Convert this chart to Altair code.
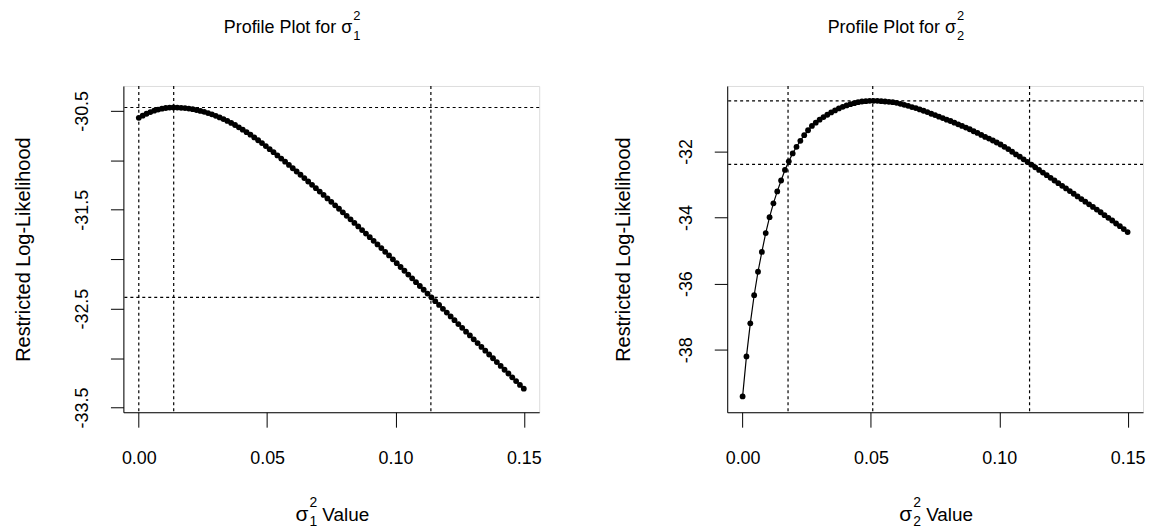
import altair as alt
import pandas as pd

# sigma^2 grid (x values of the profile points)
sigma_grid = [
    0.0, 0.0015, 0.003, 0.0045, 0.006, 0.0075, 0.009, 0.0105, 0.012, 0.0135,
    0.015, 0.0165, 0.018, 0.0195, 0.021, 0.0225, 0.024, 0.0255, 0.027, 0.0285,
    0.03, 0.0315, 0.033, 0.0345, 0.036, 0.0375, 0.039, 0.0405, 0.042, 0.0435,
    0.045, 0.0465, 0.048, 0.0495, 0.051, 0.0525, 0.054, 0.0555, 0.057, 0.0585,
    0.06, 0.0615, 0.063, 0.0645, 0.066, 0.0675, 0.069, 0.0705, 0.072, 0.0735,
    0.075, 0.0765, 0.078, 0.0795, 0.081, 0.0825, 0.084, 0.0855, 0.087, 0.0885,
    0.09, 0.0915, 0.093, 0.0945, 0.096, 0.0975, 0.099, 0.1005, 0.102, 0.1035,
    0.105, 0.1065, 0.108, 0.1095, 0.111, 0.1125, 0.114, 0.1155, 0.117, 0.1185,
    0.12, 0.1215, 0.123, 0.1245, 0.126, 0.1275, 0.129, 0.1305, 0.132, 0.1335,
    0.135, 0.1365, 0.138, 0.1395, 0.141, 0.1425, 0.144, 0.1455, 0.147, 0.1485,
    0.15,
]

loglik_sigma1 = [
    -30.570, -30.548, -30.529, -30.512, -30.498, -30.487, -30.478, -30.471, -30.467, -30.466,
    -30.467, -30.469, -30.472, -30.477, -30.483, -30.491, -30.500, -30.510, -30.522, -30.535,
    -30.550, -30.566, -30.583, -30.602, -30.622, -30.643, -30.666, -30.690, -30.715, -30.741,
    -30.768, -30.797, -30.826, -30.856, -30.887, -30.918, -30.950, -30.982, -31.014, -31.047,
    -31.080, -31.113, -31.146, -31.180, -31.214, -31.248, -31.282, -31.316, -31.350, -31.385,
    -31.420, -31.455, -31.490, -31.526, -31.561, -31.597, -31.633, -31.669, -31.705, -31.741,
    -31.777, -31.814, -31.851, -31.888, -31.925, -31.962, -32.001, -32.040, -32.079, -32.117,
    -32.156, -32.194, -32.232, -32.271, -32.309, -32.348, -32.386, -32.425, -32.463, -32.502,
    -32.540, -32.579, -32.617, -32.656, -32.694, -32.733, -32.771, -32.810, -32.848, -32.887,
    -32.925, -32.964, -33.002, -33.041, -33.079, -33.118, -33.156, -33.195, -33.233, -33.272,
    -33.310,
]

loglik_sigma2 = [
    -39.41, -38.20, -37.20, -36.35, -35.64, -35.04, -34.47, -33.99, -33.57, -33.21,
    -32.88, -32.56, -32.30, -32.06, -31.86, -31.68, -31.51, -31.36, -31.23, -31.13,
    -31.04, -30.96, -30.89, -30.82, -30.76, -30.70, -30.65, -30.61, -30.57, -30.54,
    -30.51, -30.49, -30.48, -30.47, -30.47, -30.47, -30.48, -30.49, -30.50, -30.51,
    -30.53, -30.56, -30.59, -30.62, -30.66, -30.69, -30.73, -30.77, -30.81, -30.86,
    -30.90, -30.95, -30.99, -31.04, -31.08, -31.13, -31.18, -31.23, -31.28, -31.33,
    -31.39, -31.44, -31.50, -31.56, -31.61, -31.67, -31.73, -31.79, -31.86, -31.93,
    -32.01, -32.09, -32.16, -32.24, -32.32, -32.40, -32.48, -32.56, -32.64, -32.72,
    -32.80, -32.88, -32.96, -33.04, -33.12, -33.20, -33.28, -33.36, -33.44, -33.52,
    -33.60, -33.68, -33.76, -33.84, -33.93, -34.01, -34.09, -34.18, -34.26, -34.35,
    -34.44,
]

# reference lines (max / CI cutoff and corresponding sigma values)
s1_vlines = [0.0, 0.0136, 0.1138]
s1_hlines = [-30.466, -32.386]
s2_vlines = [0.0177, 0.0507, 0.1118]
s2_hlines = [-30.47, -32.39]

x_ticks = [0.0, 0.05, 0.10, 0.15]
s1_yticks = [-30.5, -31.0, -31.5, -32.0, -32.5, -33.0, -33.5]
s2_yticks = [-32, -34, -36, -38]

FONT = "Liberation Sans"
W, H = 418, 328


def txt(s, x, y, size, align):
    return alt.Chart(pd.DataFrame({"t": [s]})).mark_text(
        font=FONT, fontSize=size, align=align, baseline="alphabetic", color="black"
    ).encode(x=alt.value(x), y=alt.value(y), text="t:N")


def panel(values, vlines, hlines, ydomain, yticks, label_expr, sub, title_x):
    df = pd.DataFrame({"x": sigma_grid, "y": values})
    xs = alt.Scale(domain=[-0.006, 0.156], nice=False, zero=False)
    ys = alt.Scale(domain=ydomain, nice=False, zero=False)
    xaxis = alt.Axis(
        values=x_ticks, format=".2f", title=None, grid=False,
        tickSize=15, tickColor="black", domainColor="black",
        labelPadding=23, labelFontSize=18, labelFont=FONT, labelColor="black",
        labelOverlap=False, labelFlush=False, labelBound=False,
    )
    yaxis = alt.Axis(
        values=yticks, labelExpr=label_expr, grid=False,
        title="Restricted Log-Likelihood", titleFont=FONT, titleFontSize=20,
        titleFontWeight="normal", titleColor="black",
        titleX=title_x, titleY=H / 2, titleBaseline="middle", titleAngle=270,
        titleAlign="center",
        tickSize=13, tickColor="black", domainColor="black",
        labelAngle=270, labelAlign="center", labelBaseline="middle",
        labelPadding=28, labelFontSize=18, labelFont=FONT, labelColor="black",
        labelOverlap=False, labelFlush=False, labelBound=False,
    )
    base = alt.Chart(df)
    line = base.mark_line(color="black", strokeWidth=1.2).encode(
        x=alt.X("x:Q", scale=xs, axis=xaxis),
        y=alt.Y("y:Q", scale=ys, axis=yaxis),
    )
    pts = base.mark_circle(color="black", size=34, opacity=1).encode(
        x="x:Q", y="y:Q"
    )
    vr = alt.Chart(pd.DataFrame({"x": vlines})).mark_rule(
        color="black", strokeDash=[3, 3], strokeWidth=1.2
    ).encode(x="x:Q")
    hr = alt.Chart(pd.DataFrame({"y": hlines})).mark_rule(
        color="black", strokeDash=[3, 3], strokeWidth=1.2
    ).encode(y="y:Q")
    texts = [
        txt("Profile Plot for σ", 230, -53, 18, "right"),
        txt("2", 231, -66, 13, "left"),
        txt(sub, 231, -46, 13, "left"),
        txt("σ", 186, 437, 21, "right"),
        txt("2", 187, 423, 14, "left"),
        txt(sub, 187, 442, 14, "left"),
        txt("Value", 200, 437, 19, "left"),
    ]
    return alt.layer(vr, hr, line, pts, *texts).properties(width=W, height=H)


left = panel(
    loglik_sigma1, s1_vlines, s1_hlines, [-33.548, -30.248], s1_yticks,
    "datum.value % 1 == 0 ? '' : '' + datum.value", "1", -100,
)
right = panel(
    loglik_sigma2, s2_vlines, s2_hlines, [-39.89, -30.02], s2_yticks,
    "'' + datum.value", "2", -104,
)

chart = (
    alt.hconcat(left, right, spacing=71)
    .properties(padding={"left": 5, "top": 0, "right": 0, "bottom": 0})
    .configure_view(stroke=None)
    .configure(background="white")
)

chart.save("out.html", embed_options={"renderer": "svg", "actions": False})
